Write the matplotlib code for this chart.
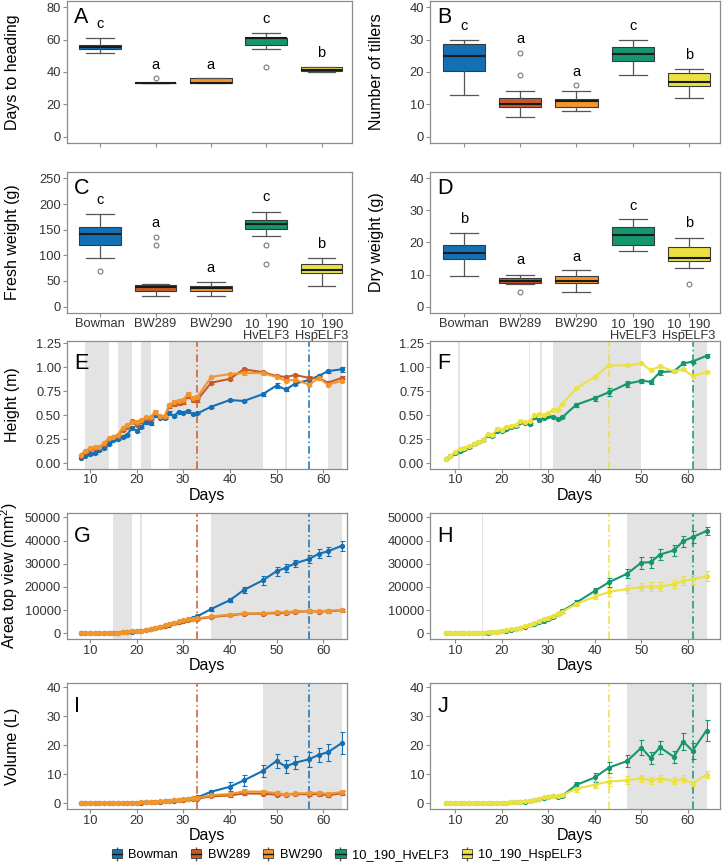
import matplotlib
matplotlib.use("Agg")
import matplotlib.pyplot as plt
from matplotlib.patches import Patch
from matplotlib.lines import Line2D
from matplotlib.legend_handler import HandlerTuple

plt.rcParams['font.family'] = ['Liberation Sans', 'DejaVu Sans']
plt.rcParams['mathtext.default'] = 'regular'

# genotypes and colours
genotypes = ['Bowman', 'BW289', 'BW290', '10_190_HvELF3', '10_190_HspELF3']
xlabels = ['Bowman', 'BW289', 'BW290', '10_190\nHvELF3', '10_190\nHspELF3']
colors = ['#1470B4', '#C95A28', '#F0962D', '#14966E', '#EBE141']

# box plot summaries: (whislo, q1, med, q3, whishi)
heading_stats = [(52, 54, 55.5, 57, 61), (33, 33, 33, 33, 33), (33, 33, 33, 36, 36),
                 (54, 57, 61, 61, 64), (40, 40.5, 41, 43, 43)]
heading_fliers = [[], [36], [], [43], []]
heading_letters = ['c', 'a', 'a', 'c', 'b']
heading_letter_y = [69.5, 44.5, 44.5, 72.8, 51.5]

tiller_stats = [(13, 20.4, 25, 28.7, 30), (6, 9, 10, 12, 14), (8, 9.3, 11, 11.6, 14),
                (19, 23.3, 25.5, 27.6, 30), (12, 15.8, 17, 19.7, 21)]
tiller_fliers = [[], [19, 26], [16], [], []]
tiller_letters = ['c', 'a', 'a', 'c', 'b']
tiller_letter_y = [34.3, 30.2, 20.1, 34.3, 25.4]

fresh_stats = [(95, 121, 141, 155, 181), (20, 31, 39, 42, 44), (21.5, 31, 36, 40, 48),
               (137, 152, 161, 168, 185), (40.5, 65, 72, 83.5, 95)]
fresh_fliers = [[69], [120, 136], [], [83.5, 121], []]
fresh_letters = ['c', 'a', 'a', 'c', 'b']
fresh_letter_y = [207, 164, 75, 213, 122]

dry_stats = [(9.5, 14.7, 16.7, 19.3, 23), (7.1, 7.4, 8.1, 9, 10), (4.7, 7.3, 8.1, 9.4, 11.5),
             (17.5, 19.1, 22.3, 24.9, 27.2), (12.1, 14.1, 15.1, 18.7, 21.5)]
dry_fliers = [[], [4.5], [], [], [7.1]]
dry_letters = ['b', 'a', 'a', 'c', 'b']
dry_letter_y = [27.3, 14.4, 15.5, 31.4, 26]

# time series
days = [8, 9, 10, 11, 12, 13, 14, 15, 16, 17, 18, 19, 20, 21, 22, 23, 24, 25, 26, 27, 28, 29,
        30, 31, 32, 33, 36, 40, 43, 47, 50, 52, 54, 57, 59, 61, 64]

bowman_h = [0.06, 0.08, 0.10, 0.11, 0.14, 0.16, 0.20, 0.24, 0.25, 0.28, 0.30, 0.37, 0.34, 0.38,
            0.43, 0.42, 0.50, 0.47, 0.47, 0.53, 0.49, 0.54, 0.53, 0.55, 0.51, 0.52, 0.59, 0.66,
            0.65, 0.72, 0.81, 0.77, 0.83, 0.87, 0.91, 0.96, 0.98]
bw289_h = [0.08, 0.12, 0.15, 0.16, 0.17, 0.20, 0.25, 0.28, 0.29, 0.35, 0.38, 0.44, 0.40, 0.44,
           0.47, 0.47, 0.53, 0.48, 0.48, 0.60, 0.62, 0.63, 0.64, 0.70, 0.66, 0.66, 0.84, 0.88,
           0.98, 0.95, 0.91, 0.90, 0.92, 0.89, 0.89, 0.84, 0.89]
bw290_h = [0.09, 0.13, 0.16, 0.17, 0.17, 0.21, 0.26, 0.28, 0.30, 0.37, 0.40, 0.43, 0.43, 0.45,
           0.48, 0.48, 0.54, 0.49, 0.49, 0.61, 0.64, 0.65, 0.66, 0.72, 0.68, 0.69, 0.90, 0.93,
           0.94, 0.94, 0.90, 0.86, 0.87, 0.82, 0.89, 0.82, 0.86]
hv_h = [0.05, 0.08, 0.11, 0.13, 0.15, 0.17, 0.20, 0.22, 0.24, 0.30, 0.29, 0.34, 0.34, 0.36,
        0.38, 0.39, 0.43, 0.42, 0.41, 0.48, 0.45, 0.47, 0.49, 0.48, 0.46, 0.48, 0.61, 0.68,
        0.74, 0.83, 0.86, 0.85, 0.95, 0.96, 1.04, 1.06, 1.12]
hsp_h = [0.05, 0.08, 0.12, 0.15, 0.16, 0.18, 0.20, 0.22, 0.24, 0.31, 0.30, 0.36, 0.35, 0.38,
         0.39, 0.40, 0.44, 0.43, 0.44, 0.50, 0.51, 0.50, 0.52, 0.56, 0.56, 0.62, 0.78, 0.90,
         1.02, 1.02, 1.04, 0.97, 1.01, 0.96, 0.98, 0.91, 0.95]

bowman_h_se = [0.005, 0.005, 0.01, 0.01, 0.01, 0.01, 0.01, 0.01, 0.01, 0.01, 0.01, 0.015, 0.015,
               0.01, 0.015, 0.015, 0.015, 0.01, 0.01, 0.015, 0.01, 0.01, 0.01, 0.01, 0.01, 0.01,
               0.01, 0.015, 0.01, 0.015, 0.025, 0.02, 0.015, 0.015, 0.015, 0.015, 0.025]
bw289_h_se = [0.005, 0.01, 0.01, 0.01, 0.01, 0.01, 0.01, 0.01, 0.01, 0.01, 0.015, 0.015, 0.015,
              0.015, 0.015, 0.015, 0.015, 0.01, 0.01, 0.02, 0.02, 0.02, 0.02, 0.02, 0.02, 0.02,
              0.015, 0.015, 0.015, 0.015, 0.015, 0.015, 0.015, 0.015, 0.015, 0.015, 0.015]
bw290_h_se = [0.005, 0.01, 0.01, 0.01, 0.01, 0.01, 0.01, 0.01, 0.01, 0.01, 0.015, 0.015, 0.015,
              0.015, 0.015, 0.015, 0.015, 0.01, 0.01, 0.02, 0.02, 0.02, 0.02, 0.02, 0.02, 0.02,
              0.015, 0.015, 0.015, 0.015, 0.015, 0.015, 0.015, 0.015, 0.015, 0.015, 0.015]
hv_h_se = [0.005, 0.005, 0.01, 0.01, 0.01, 0.01, 0.01, 0.01, 0.01, 0.015, 0.01, 0.015, 0.015,
           0.01, 0.01, 0.01, 0.01, 0.01, 0.01, 0.015, 0.01, 0.01, 0.01, 0.01, 0.01, 0.01,
           0.02, 0.025, 0.04, 0.03, 0.02, 0.02, 0.025, 0.01, 0.015, 0.015, 0.015]
hsp_h_se = [0.005, 0.005, 0.01, 0.01, 0.01, 0.01, 0.01, 0.01, 0.01, 0.01, 0.01, 0.015, 0.01,
            0.01, 0.01, 0.01, 0.01, 0.01, 0.01, 0.015, 0.01, 0.01, 0.01, 0.01, 0.01, 0.01,
            0.01, 0.01, 0.01, 0.01, 0.01, 0.01, 0.01, 0.01, 0.01, 0.01, 0.01]

bowman_a = [30, 40, 50, 60, 80, 100, 130, 170, 250, 350, 500, 700, 850, 1000, 1300, 1650, 2100,
            2600, 3100, 3700, 4300, 4900, 5400, 6000, 6600, 7300, 10500, 14300, 18700, 22800,
            26800, 28300, 30200, 32100, 34300, 35400, 37800]
bw289_a = [40, 50, 60, 80, 100, 130, 170, 220, 300, 420, 580, 780, 950, 1150, 1450, 1850, 2300,
           2800, 3300, 3900, 4500, 5000, 5400, 5800, 6000, 6200, 7000, 7800, 8400, 8500, 8700,
           8800, 9300, 9500, 9400, 9500, 9900]
bw290_a = [40, 50, 70, 90, 110, 140, 180, 240, 330, 450, 620, 830, 1000, 1200, 1500, 1900, 2400,
           2900, 3400, 4000, 4600, 5100, 5600, 6000, 6200, 6400, 7300, 8000, 8600, 8700, 9000,
           9100, 9500, 9700, 9600, 9700, 10100]
hv_a = [30, 40, 50, 60, 80, 100, 120, 160, 230, 320, 450, 650, 850, 1100, 1500, 1900, 2300, 2800,
        3400, 4100, 4800, 5500, 6200, 7100, 8300, 9600, 13200, 18300, 22000, 25800, 30500, 30700,
        34000, 35800, 39800, 41500, 44200]
hsp_a = [30, 40, 50, 70, 90, 110, 140, 180, 260, 360, 500, 720, 950, 1250, 1650, 2050, 2500,
         3000, 3700, 4400, 5200, 6000, 6800, 7600, 8400, 9300, 12600, 15800, 17800, 19200, 19900,
         20200, 20200, 21200, 22700, 23300, 24600]

bowman_a_se = [10, 10, 10, 10, 10, 20, 20, 30, 40, 50, 60, 80, 90, 100, 120, 150, 180, 200, 230,
               260, 300, 330, 360, 400, 450, 500, 700, 1000, 1500, 1800, 2000, 1800, 1600, 1700,
               1900, 2000, 2100]
bw289_a_se = [10, 10, 10, 10, 10, 20, 20, 30, 40, 50, 60, 70, 80, 90, 110, 130, 150, 180, 200,
              230, 260, 290, 320, 350, 380, 400, 450, 500, 500, 500, 550, 550, 550, 600, 600, 600,
              600]
bw290_a_se = [10, 10, 10, 10, 10, 20, 20, 30, 40, 50, 60, 70, 80, 90, 110, 130, 150, 180, 200,
              230, 260, 290, 320, 350, 380, 400, 450, 500, 500, 500, 550, 550, 550, 600, 600, 600,
              600]
hv_a_se = [10, 10, 10, 10, 10, 20, 20, 30, 40, 50, 60, 80, 90, 100, 120, 150, 180, 200, 250, 300,
           350, 400, 450, 500, 600, 700, 1000, 1300, 1800, 2000, 2600, 2400, 2400, 2400, 2400,
           2600, 1900]
hsp_a_se = [10, 10, 10, 10, 10, 20, 20, 30, 40, 50, 60, 80, 90, 100, 120, 150, 180, 200, 250,
            300, 350, 400, 450, 500, 600, 700, 900, 1200, 1600, 1700, 1800, 1800, 1800, 1800,
            2000, 2000, 2200]

bowman_v = [0.0, 0.0, 0.0, 0.0, 0.0, 0.05, 0.05, 0.05, 0.1, 0.1, 0.1, 0.15, 0.2, 0.25, 0.3,
            0.35, 0.45, 0.55, 0.65, 0.8, 0.95, 1.1, 1.25, 1.45, 1.7, 2.0, 4.0, 5.7, 7.9, 11.1,
            14.6, 12.7, 14.0, 15.2, 16.7, 17.6, 20.8]
bw289_v = [0.0, 0.0, 0.0, 0.0, 0.0, 0.05, 0.05, 0.05, 0.1, 0.1, 0.15, 0.2, 0.25, 0.3, 0.35,
           0.4, 0.5, 0.6, 0.7, 0.9, 1.0, 1.15, 1.3, 1.4, 1.5, 1.6, 2.4, 2.7, 3.4, 3.3, 3.0, 3.0,
           3.2, 3.1, 3.2, 2.7, 3.5]
bw290_v = [0.0, 0.0, 0.0, 0.0, 0.0, 0.05, 0.05, 0.05, 0.1, 0.1, 0.15, 0.2, 0.25, 0.3, 0.35,
           0.45, 0.55, 0.65, 0.75, 0.95, 1.1, 1.25, 1.4, 1.55, 1.7, 1.8, 2.8, 3.2, 4.1, 4.0,
           3.5, 3.1, 3.4, 3.5, 3.6, 3.2, 3.9]
hv_v = [0.0, 0.0, 0.0, 0.0, 0.0, 0.0, 0.05, 0.05, 0.05, 0.1, 0.1, 0.15, 0.2, 0.25, 0.3, 0.35,
        0.45, 0.55, 0.7, 1.0, 1.5, 1.9, 2.2, 2.6, 2.3, 2.6, 6.3, 8.9, 12.3, 14.6, 19.2, 15.6,
        19.3, 16.0, 21.3, 18.1, 25.1]
hsp_v = [0.0, 0.0, 0.0, 0.0, 0.0, 0.0, 0.05, 0.05, 0.05, 0.1, 0.1, 0.15, 0.2, 0.25, 0.35, 0.45,
         0.55, 0.7, 0.85, 1.1, 1.6, 2.0, 2.3, 2.6, 2.4, 2.8, 5.0, 6.4, 7.5, 7.9, 8.6, 7.9, 8.5,
         7.8, 8.5, 6.8, 9.9]

bowman_v_se = [0, 0, 0, 0, 0, 0, 0, 0, 0, 0, 0, 0, 0.05, 0.05, 0.05, 0.05, 0.05, 0.05, 0.1, 0.1,
               0.1, 0.1, 0.15, 0.15, 0.2, 0.25, 0.7, 1.5, 1.8, 2.0, 2.5, 2.4, 2.3, 2.6, 2.5, 3.0,
               3.8]
bw289_v_se = [0, 0, 0, 0, 0, 0, 0, 0, 0, 0, 0, 0, 0.05, 0.05, 0.05, 0.05, 0.05, 0.05, 0.1, 0.1,
              0.1, 0.1, 0.1, 0.15, 0.15, 0.2, 0.4, 0.5, 0.6, 0.6, 0.6, 0.5, 0.5, 0.5, 0.6, 0.5,
              0.6]
bw290_v_se = [0, 0, 0, 0, 0, 0, 0, 0, 0, 0, 0, 0, 0.05, 0.05, 0.05, 0.05, 0.05, 0.05, 0.1, 0.1,
              0.1, 0.1, 0.1, 0.15, 0.15, 0.2, 0.4, 0.6, 0.7, 0.7, 0.7, 0.6, 0.6, 0.6, 0.7, 0.6,
              0.7]
hv_v_se = [0, 0, 0, 0, 0, 0, 0, 0, 0, 0, 0, 0, 0.05, 0.05, 0.05, 0.05, 0.05, 0.05, 0.1, 0.1,
           0.15, 0.2, 0.2, 0.25, 0.25, 0.3, 1.2, 1.5, 2.0, 2.2, 2.5, 2.0, 2.2, 2.0, 2.8, 2.8, 3.5]
hsp_v_se = [0, 0, 0, 0, 0, 0, 0, 0, 0, 0, 0, 0, 0.05, 0.05, 0.05, 0.05, 0.05, 0.05, 0.1, 0.1,
            0.15, 0.2, 0.2, 0.25, 0.25, 0.3, 1.0, 1.2, 1.4, 1.4, 1.3, 1.2, 1.2, 1.1, 1.1, 1.0, 1.1]

# shaded periods and heading dates
shade_E = [(9, 14), (16, 19), (21, 23), (27, 47), (51.8, 52.3), (61, 64)]
shade_F = [(10.6, 11), (25.8, 26.1), (28.2, 28.6), (31, 50), (61, 64)]
shade_G = [(15, 19), (20.8, 21.2), (36, 64)]
shade_H = [(15.7, 16), (47, 64)]
shade_I = [(47, 64)]
shade_J = [(47, 64)]
heading_left = [(33, colors[1]), (57, colors[0])]
heading_right = [(43, colors[4]), (61, colors[3])]

W, H = 722, 868
fig = plt.figure(figsize=(W / 100, H / 100), dpi=100)

SPINE = '#8c8c8c'
TICKC = '#333333'
TICK_FS = 9.3
LAB_FS = 11.5


def add_ax(left, top, right, bottom):
    ax = fig.add_axes([left / W, 1 - bottom / H, (right - left) / W, (bottom - top) / H])
    for s in ax.spines.values():
        s.set_color(SPINE)
        s.set_linewidth(0.9)
    ax.patch.set_alpha(0)
    ax.tick_params(length=2.8, width=0.8, color=SPINE, labelcolor=TICKC, labelsize=TICK_FS,
                   pad=1.5)
    return ax


def box_panel(ax, stats, fliers, letters, letter_y, ylim, yticks, ylabel, tag, show_labels):
    bx = []
    for s, f in zip(stats, fliers):
        bx.append(dict(whislo=s[0], q1=s[1], med=s[2], q3=s[3], whishi=s[4], fliers=f))
    res = ax.bxp(bx, positions=range(1, 6), widths=0.75, capwidths=0.5, patch_artist=True,
                 boxprops=dict(edgecolor='#3a3a3a', linewidth=0.8),
                 medianprops=dict(color='#1a1a1a', linewidth=1.5),
                 whiskerprops=dict(color='#555555', linewidth=0.9),
                 capprops=dict(color='#555555', linewidth=0.9),
                 flierprops=dict(marker='o', markerfacecolor='none', markeredgecolor='#777777',
                                 markersize=3.5, markeredgewidth=0.8))
    for patch, c in zip(res['boxes'], colors):
        patch.set_facecolor(c)
    for i, (t, y) in enumerate(zip(letters, letter_y)):
        ax.text(i + 1, y, t, ha='center', va='center', fontsize=10.5)
    ax.set_xlim(0.4, 5.55)
    ax.set_ylim(*ylim)
    ax.set_yticks(yticks)
    ax.set_xticks(range(1, 6))
    if show_labels:
        ax.set_xticklabels(xlabels, linespacing=0.95)
        ax.tick_params(axis='x', pad=1)
    else:
        ax.set_xticklabels([])
    ax.set_ylabel(ylabel, fontsize=LAB_FS)
    ax.text(0.025, 0.96, tag, transform=ax.transAxes, fontsize=15.5, va='top', ha='left')


def line_panel(ax, series, shades, vlines, xlim, ylim, yticks, ylabel, tag):
    for a, b in shades:
        ax.axvspan(a, b, color='#e3e3e3', lw=0, zorder=0)
    for vals, se, c in series:
        ax.errorbar(days, vals, yerr=se, color=c, lw=1.5, marker='o', ms=2.8,
                    capsize=1.8, elinewidth=0.8, capthick=0.8, zorder=3)
    for x, c in vlines:
        ax.axvline(x, color=c, lw=1.1, ls=(0, (5, 2, 1, 2)), zorder=2)
    ax.set_xlim(*xlim)
    ax.set_ylim(*ylim)
    ax.set_yticks(yticks)
    ax.set_xticks([10, 20, 30, 40, 50, 60])
    ax.set_xlabel('Days', fontsize=LAB_FS, labelpad=1)
    if ylabel:
        ax.set_ylabel(ylabel, fontsize=LAB_FS)
    ax.text(0.025, 0.9, tag, transform=ax.transAxes, fontsize=15.5, va='top', ha='left')


# box plots
axA = add_ax(67, 1, 352, 143)
box_panel(axA, heading_stats, heading_fliers, heading_letters, heading_letter_y,
          (-4, 84), [0, 20, 40, 60, 80], 'Days to heading', 'A', False)
axB = add_ax(430, 1, 720, 143)
box_panel(axB, tiller_stats, tiller_fliers, tiller_letters, tiller_letter_y,
          (-2, 42), [0, 10, 20, 30, 40], 'Number of tillers', 'B', False)
axC = add_ax(67, 172, 352, 313)
box_panel(axC, fresh_stats, fresh_fliers, fresh_letters, fresh_letter_y,
          (-12.5, 262.5), [0, 50, 100, 150, 200, 250], 'Fresh weight (g)', 'C', True)
axD = add_ax(430, 172, 720, 313)
box_panel(axD, dry_stats, dry_fliers, dry_letters, dry_letter_y,
          (-2, 42), [0, 10, 20, 30, 40], 'Dry weight (g)', 'D', True)

xl_left = (5.1, 65.1)
xl_right = (4.6, 66.9)
h_ticks = [0, 0.25, 0.5, 0.75, 1.0, 1.25]
h_labels = ['0.00', '0.25', '0.50', '0.75', '1.00', '1.25']

axE = add_ax(67, 340.5, 347, 468.5)
line_panel(axE, [(bowman_h, bowman_h_se, colors[0]), (bw289_h, bw289_h_se, colors[1]),
                 (bw290_h, bw290_h_se, colors[2])], shade_E, heading_left, xl_left,
           (-0.052, 1.279), h_ticks, 'Height (m)', 'E')
axE.set_yticklabels(h_labels)
axF = add_ax(430, 340.5, 720, 468.5)
line_panel(axF, [(hv_h, hv_h_se, colors[3]), (hsp_h, hsp_h_se, colors[4])], shade_F,
           heading_right, xl_right, (-0.052, 1.279), h_ticks, None, 'F')
axF.set_yticklabels(h_labels)

a_ticks = [0, 10000, 20000, 30000, 40000, 50000]
axG = add_ax(67, 513, 347, 639)
line_panel(axG, [(bowman_a, bowman_a_se, colors[0]), (bw289_a, bw289_a_se, colors[1]),
                 (bw290_a, bw290_a_se, colors[2])], shade_G, heading_left, xl_left,
           (-2460, 51940), a_ticks, 'Area top view (mm$^2$)', 'G')
axH = add_ax(430, 513, 720, 639)
line_panel(axH, [(hv_a, hv_a_se, colors[3]), (hsp_a, hsp_a_se, colors[4])], shade_H,
           heading_right, xl_right, (-2460, 51940), a_ticks, None, 'H')

v_ticks = [0, 10, 20, 30, 40]
axI = add_ax(67, 683, 347, 809)
line_panel(axI, [(bowman_v, bowman_v_se, colors[0]), (bw289_v, bw289_v_se, colors[1]),
                 (bw290_v, bw290_v_se, colors[2])], shade_I, heading_left, xl_left,
           (-1.97, 41.5), v_ticks, 'Volume (L)', 'I')
axJ = add_ax(430, 683, 720, 809)
line_panel(axJ, [(hv_v, hv_v_se, colors[3]), (hsp_v, hsp_v_se, colors[4])], shade_J,
           heading_right, xl_right, (-1.97, 41.5), v_ticks, None, 'J')

# y label positions: figure pixel x of the label's right edge
for ax, px in [(axA, 20), (axC, 20), (axE, 20), (axG, 20), (axI, 20), (axB, 384), (axD, 384)]:
    pos = ax.get_position()
    ax.yaxis.set_label_coords((px / W - pos.x0) / pos.width, 0.5)

# legend
handles = []
for c in colors:
    whisk = Line2D([], [], color='#555555', marker='|', markersize=10, linestyle='none')
    box = Patch(facecolor=c, edgecolor='#3a3a3a', linewidth=0.6)
    med = Line2D([], [], color='#1a1a1a', lw=1.0)
    handles.append((whisk, box, med))
fig.legend(handles, genotypes, loc='center', bbox_to_anchor=(347 / W, 1 - 855 / H), ncol=5,
           frameon=False, fontsize=TICK_FS, handlelength=0.8, handleheight=0.6, handletextpad=0.5,
           columnspacing=1.0, handler_map={tuple: HandlerTuple(ndivide=1)})

fig.savefig('out.png', dpi=100)
